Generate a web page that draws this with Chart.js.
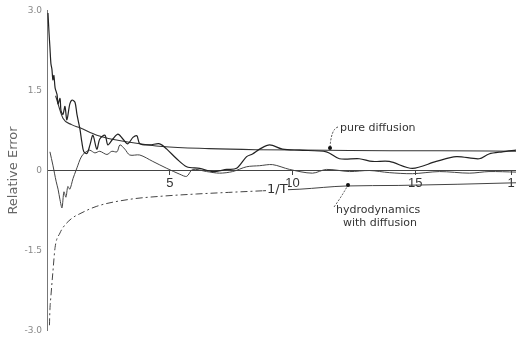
<!DOCTYPE html>
<html>
<head>
<meta charset="utf-8">
<script src="https://cdn.jsdelivr.net/npm/chart.js@4/dist/chart.umd.min.js"></script>
<style>
html,body{margin:0;padding:0;background:#fff;overflow:hidden;}
canvas{display:block;}
</style>
</head>
<body>
<canvas id="c" width="516" height="341"></canvas>
<script>
// ---- data ----
const noisyA_T = [0.04,0.08,0.12,0.16,0.2,0.24,0.28,0.33,0.41,0.45,0.53,0.57,0.65,0.73,0.81,0.93,1.02,1.14,1.22,1.34,1.42,1.5,1.63,1.75,1.87,2.03,2.15,2.36,2.48,2.68,2.89,3.09,3.29,3.5,3.66,3.78,4.19,4.59,4.88,5.28,5.69,6.22,6.75,7.32,7.72,8.13,8.37,8.66,9.07,9.59,10.28,11.38,11.91,12.72,13.25,13.94,14.88,15.85,16.67,17.6,18.0,18.54,19.1];
const noisyA_V = [2.95,2.6,2.3,2.0,1.9,1.7,1.78,1.55,1.42,1.25,1.35,1.12,1.05,1.2,0.95,1.25,1.32,1.28,1.05,0.78,0.53,0.35,0.32,0.48,0.66,0.4,0.59,0.66,0.48,0.59,0.68,0.59,0.5,0.62,0.65,0.5,0.48,0.5,0.4,0.22,0.07,0.04,-0.02,0.02,0.04,0.26,0.31,0.4,0.48,0.4,0.38,0.35,0.22,0.22,0.17,0.17,0.04,0.17,0.26,0.22,0.31,0.35,0.38];

const noisyB_T = [0.12,0.24,0.37,0.45,0.53,0.61,0.69,0.77,0.85,0.93,1.06,1.18,1.26,1.34,1.46,1.63,1.75,1.95,2.15,2.44,2.64,2.85,2.97,3.17,3.37,3.78,4.31,4.88,5.41,5.69,5.93,6.5,7.03,7.56,8.13,8.66,9.19,9.88,10.81,11.38,12.32,13.13,13.94,14.88,15.98,17.2,18.0,19.1];
const noisyB_V = [0.35,0.1,-0.2,-0.35,-0.55,-0.7,-0.4,-0.5,-0.3,-0.35,-0.15,0.0,0.1,0.2,0.3,0.36,0.38,0.33,0.36,0.3,0.36,0.35,0.48,0.4,0.29,0.29,0.17,0.04,-0.07,-0.11,0.02,-0.02,-0.05,-0.02,0.07,0.09,0.11,0.02,-0.05,0.02,-0.02,0.0,-0.04,-0.06,-0.02,-0.05,-0.02,-0.03];

const pureDiff_T = [0.35,0.65,1.0,1.34,2.03,2.5,3.37,4.7,6.6,8.5,11.4,14.0,16.0,19.1];
const pureDiff_V = [1.4,0.98,0.86,0.8,0.66,0.6,0.53,0.45,0.41,0.39,0.38,0.37,0.37,0.36];

const invT_T = [0.1,0.12,0.16,0.24,0.33,0.53,0.65,1.0,1.34,2.03,3.37,4.72,6.1,7.4,8.8,10.3,12.2,14.3,19.1];
const invT_V = [-2.9,-2.6,-2.35,-1.9,-1.44,-1.17,-1.07,-0.9,-0.81,-0.67,-0.54,-0.48,-0.44,-0.41,-0.38,-0.35,-0.29,-0.28,-0.23];

const xTickValues = [5,10,15,18.9];
const xTickLabels = ['5','10','15','1'];
const yTickValues = [3,1.5,0,-1.5,-3];
const yTickLabels = ['3.0','1.5','0','-1.5','-3.0'];

const pts = (xs, ys) => xs.map((x,i)=>({x:x, y:ys[i]}));

const annot = {
  id: 'annot',
  afterDatasetsDraw(chart){
    const ctx = chart.ctx;
    ctx.save();
    ctx.fillStyle = '#333';
    ctx.strokeStyle = '#444';
    ctx.textBaseline = 'middle';
    ctx.textAlign = 'left';
    // 1/T label with gap in the line
    ctx.fillStyle = '#fff';
    ctx.fillRect(266, 182, 22, 15);
    ctx.fillStyle = '#333';
    ctx.font = '13px "DejaVu Sans"';
    ctx.fillText('1/T', 267, 190);
    // pure diffusion
    ctx.font = '11px "DejaVu Sans"';
    ctx.fillText('pure diffusion', 340, 128);
    ctx.lineWidth = 1;
    ctx.setLineDash([2,1.5]);
    ctx.beginPath();
    ctx.moveTo(338, 127);
    ctx.quadraticCurveTo(331, 129, 330, 148);
    ctx.stroke();
    // hydrodynamics with diffusion
    ctx.fillText('hydrodynamics', 336, 210);
    ctx.fillText('with diffusion', 343, 223);
    ctx.beginPath();
    ctx.moveTo(334, 207);
    ctx.quadraticCurveTo(342, 196, 348, 185);
    ctx.stroke();
    ctx.setLineDash([]);
    ctx.fillStyle = '#111';
    ctx.beginPath(); ctx.arc(330, 148, 2, 0, Math.PI*2); ctx.fill();
    ctx.beginPath(); ctx.arc(348, 185, 2, 0, Math.PI*2); ctx.fill();
    ctx.restore();
  }
};

new Chart(document.getElementById('c'), {
  type: 'line',
  data: {
    datasets: [
      { label:'noisy A', data: pts(noisyA_T, noisyA_V), borderColor:'#222', borderWidth:1.2, pointRadius:0, tension:0.3, fill:false },
      { label:'noisy B', data: pts(noisyB_T, noisyB_V), borderColor:'#444', borderWidth:1, pointRadius:0, tension:0.3, fill:false },
      { label:'pure diffusion', data: pts(pureDiff_T, pureDiff_V), borderColor:'#333', borderWidth:1.1, pointRadius:0, cubicInterpolationMode:'monotone', fill:false },
      { label:'1/T', data: pts(invT_T, invT_V), borderColor:'#444', borderWidth:1, pointRadius:0, cubicInterpolationMode:'monotone', fill:false,
        segment: { borderDash: c => c.p0.parsed.x < 8.8 ? [7,3,2,3] : [] } }
    ]
  },
  options: {
    responsive: false,
    animation: false,
    devicePixelRatio: 1,
    layout: { padding: { top: 5, bottom: 8, left: 0, right: 0 } },
    plugins: { legend: { display:false }, tooltip: { enabled:false } },
    scales: {
      x: {
        type: 'linear',
        min: 0, max: 19.1,
        position: { y: 0 },
        grid: { display:true, drawOnChartArea:false, drawTicks:true, tickLength:4, color:'#444' },
        border: { display:true, color:'#444', width:1, dash:[10,4] },
        afterBuildTicks: s => { s.ticks = xTickValues.map(v=>({value:v})); },
        ticks: {
          autoSkip:false, maxRotation:0, padding:1,
          color:'#333',
          font: { family:'"Liberation Sans Narrow","Liberation Sans",sans-serif', size:13 },
          callback: (v, i) => xTickLabels[i]
        }
      },
      y: {
        type: 'linear',
        min: -3, max: 3,
        grid: { display:false, drawTicks:false },
        border: { display:true, color:'#777', width:1 },
        afterFit: s => { s.width = 47; },
        afterBuildTicks: s => { s.ticks = yTickValues.map(v=>({value:v})); },
        ticks: {
          autoSkip:false, padding:5,
          color:'#888',
          font: { family:'"DejaVu Sans",sans-serif', size:9 },
          callback: (v, i) => yTickLabels[i]
        },
        title: {
          display:true, text:'Relative Error',
          color:'#666',
          font: { family:'"DejaVu Sans",sans-serif', size:13 },
          padding: { top:6, bottom:0 }
        }
      }
    }
  },
  plugins: [annot]
});
</script>
</body>
</html>
